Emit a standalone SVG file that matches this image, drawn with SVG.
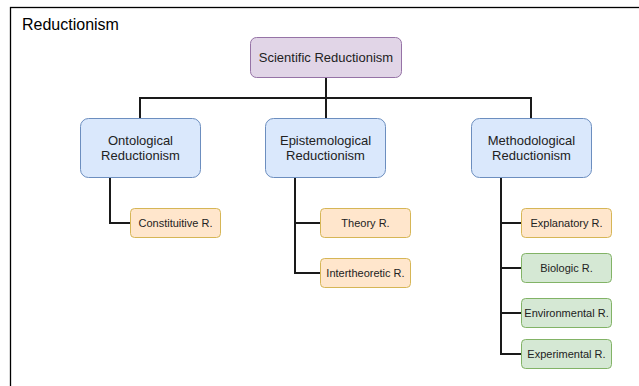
<svg xmlns="http://www.w3.org/2000/svg" width="639" height="386" viewBox="0 0 639 386">
<style>
text{font-family:"Liberation Sans",Arial,sans-serif;fill:#222;text-anchor:middle}
.m{font-size:13px}
.s{font-size:11px}
.p{fill:#e1d5e7;stroke:#9673a6;stroke-width:1}
.b{fill:#dae8fc;stroke:#6c8ebf;stroke-width:1}
.o{fill:#ffe6cc;stroke:#d6b656;stroke-width:1}
.g{fill:#d5e8d4;stroke:#82b366;stroke-width:1}
.c{fill:none;stroke:#1a1a1a;stroke-width:2}
</style>
<rect width="639" height="386" fill="#fff"/>
<g id="frame">
<rect x="10.5" y="7.5" width="700" height="500" fill="none" stroke="#000" stroke-width="1.3"/>
<text x="22" y="30" style="font-size:16px;text-anchor:start;fill:#000">Reductionism</text>
</g>
<g id="connectors">
<path class="c" d="M326 78V118M140 118V98H531V118"/>
<path class="c" d="M110 178V223H130"/>
<path class="c" d="M295 178V273H320M295 223H320"/>
<path class="c" d="M501 178V354H521M501 223H521M501 268H521M501 313H521"/>
</g>
<g id="scientific"><rect class="p" x="250.5" y="37.5" width="151" height="40" rx="6"/><text class="m" x="326" y="62">Scientific Reductionism</text></g>
<g id="ontological"><rect class="b" x="80.5" y="118.5" width="120" height="59" rx="8"/><text class="m" x="140.5" y="145">Ontological</text><text class="m" x="140.5" y="160">Reductionism</text></g>
<g id="epistemological"><rect class="b" x="265.5" y="118.5" width="120" height="59" rx="8"/><text class="m" x="325.5" y="145">Epistemological</text><text class="m" x="325.5" y="160">Reductionism</text></g>
<g id="methodological"><rect class="b" x="471.5" y="118.5" width="120" height="59" rx="8"/><text class="m" x="531.5" y="145">Methodological</text><text class="m" x="531.5" y="160">Reductionism</text></g>
<g id="constituitive"><rect class="o" x="130.5" y="208.5" width="90" height="29" rx="4"/><text class="s" x="175.5" y="227">Constituitive R.</text></g>
<g id="theory"><rect class="o" x="320.5" y="208.5" width="90" height="29" rx="4"/><text class="s" x="365.5" y="227">Theory R.</text></g>
<g id="intertheoretic"><rect class="o" x="320.5" y="258.5" width="90" height="29" rx="4"/><text class="s" x="365.5" y="277">Intertheoretic R.</text></g>
<g id="explanatory"><rect class="o" x="521.5" y="208.5" width="90" height="29" rx="4"/><text class="s" x="566.5" y="227">Explanatory R.</text></g>
<g id="biologic"><rect class="g" x="521.5" y="253.5" width="90" height="29" rx="4"/><text class="s" x="566.5" y="272">Biologic R.</text></g>
<g id="environmental"><rect class="g" x="521.5" y="298.5" width="90" height="29" rx="4"/><text class="s" x="566.5" y="317">Environmental R.</text></g>
<g id="experimental"><rect class="g" x="521.5" y="339.5" width="90" height="29" rx="4"/><text class="s" x="566.5" y="358">Experimental R.</text></g>
</svg>
